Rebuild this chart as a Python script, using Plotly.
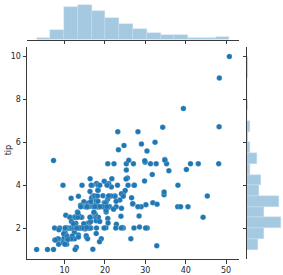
import numpy as np
import plotly.graph_objects as go

total_bill = [16.99,10.34,21.01,23.68,24.59,25.29,8.77,26.88,15.04,14.78,10.27,35.26,15.42,18.43,14.83,21.58,10.33,16.29,16.97,20.65,
17.92,20.29,15.77,39.42,19.82,17.81,13.37,12.69,21.7,19.65,9.55,18.35,15.06,20.69,17.78,24.06,16.31,16.93,18.69,31.27,
16.04,17.46,13.94,9.68,30.4,18.29,22.23,32.4,28.55,18.04,12.54,10.29,34.81,9.94,25.56,19.49,38.01,26.41,11.24,48.27,
20.29,13.81,11.02,18.29,17.59,20.08,16.45,3.07,20.23,15.01,12.02,17.07,26.86,25.28,14.73,10.51,17.92,27.2,22.76,17.29,
19.44,16.66,10.07,32.68,15.98,34.83,13.03,18.28,24.71,21.16,28.97,22.49,5.75,16.32,22.75,40.17,27.28,12.03,21.01,12.46,
11.35,15.38,44.3,22.42,20.92,15.36,20.49,25.21,18.24,14.31,14.0,7.25,38.07,23.95,25.71,17.31,29.93,10.65,12.43,24.08,
11.69,13.42,14.26,15.95,12.48,29.8,8.52,14.52,11.38,22.82,19.08,20.27,11.17,12.26,18.26,8.51,10.33,14.15,16.0,13.16,
17.47,34.3,41.19,27.05,16.43,8.35,18.64,11.87,9.78,7.51,14.07,13.13,17.26,24.55,19.77,29.85,48.17,25.0,13.39,16.49,
21.5,12.66,16.21,13.81,17.51,24.52,20.76,31.71,10.59,10.63,50.81,15.81,7.25,31.85,16.82,32.9,17.89,14.48,9.6,34.63,
34.65,23.33,45.35,23.17,40.55,20.69,20.9,30.46,18.15,23.1,15.69,19.81,28.44,15.48,16.58,7.56,10.34,43.11,13.0,13.51,
18.71,12.74,13.0,16.4,20.53,16.47,26.59,38.73,24.27,12.76,30.06,25.89,48.33,13.27,28.17,12.9,28.15,11.59,7.74,30.14,
12.16,13.42,8.58,15.98,13.42,16.27,10.09,20.45,13.28,22.12,24.01,15.69,11.61,10.77,15.53,10.07,12.6,32.83,35.83,29.03,
27.18,22.67,17.82,18.78]
tip = [1.01,1.66,3.5,3.31,3.61,4.71,2.0,3.12,1.96,3.23,1.71,5.0,1.57,3.0,3.02,3.92,1.67,3.71,3.5,3.35,
4.08,2.75,2.23,7.58,3.18,2.34,2.0,2.0,4.3,3.0,1.45,2.5,3.0,2.45,3.27,3.6,2.0,3.07,2.31,5.0,
2.24,2.54,3.06,1.32,5.6,3.0,5.0,6.0,2.05,3.0,2.5,2.6,5.2,1.56,4.34,3.51,3.0,1.5,2.5,6.73,
3.21,2.0,1.98,3.76,2.64,3.15,2.47,1.0,2.01,2.09,1.97,3.0,3.14,5.0,2.2,1.25,3.08,4.0,3.0,2.71,
3.0,3.4,1.83,5.0,2.03,5.17,2.0,4.0,5.85,3.0,3.0,3.5,1.0,4.3,3.25,4.73,4.0,1.5,3.0,1.5,
2.5,3.0,2.5,3.48,4.08,1.64,4.06,4.29,3.76,4.0,3.0,1.0,4.0,2.55,4.0,3.5,5.07,1.5,1.8,2.92,
2.31,1.68,2.5,2.0,2.52,4.2,1.48,2.0,2.0,2.18,1.5,2.83,1.5,2.0,3.25,1.25,2.0,2.0,2.0,2.75,
3.5,6.7,5.0,5.0,2.3,1.5,1.36,1.63,1.73,2.0,2.5,2.0,2.74,2.0,2.0,5.14,5.0,3.75,2.61,2.0,
3.5,2.5,2.0,2.0,3.0,3.48,2.24,4.5,1.61,2.0,10.0,3.16,5.15,3.18,4.0,3.11,2.0,2.0,4.0,3.55,
3.68,5.65,3.5,6.5,3.0,5.0,3.5,2.0,3.5,4.0,1.5,4.19,2.56,2.02,4.0,1.44,2.0,5.0,2.0,2.0,
4.0,2.01,2.0,2.5,4.0,3.23,3.41,3.0,2.03,2.23,2.0,5.16,9.0,2.5,6.5,1.1,3.0,1.5,1.44,3.09,
2.2,3.48,1.92,3.0,1.58,2.5,2.0,3.0,2.72,2.88,2.0,3.0,3.39,1.47,3.0,1.25,1.0,1.17,4.67,5.92,
2.0,2.0,1.75,3.0]
x_ticks = [10, 20, 30, 40, 50]
y_ticks = [2, 4, 6, 8, 10]
y_label = "tip"

W, H = 283, 275
BLUE = "#1f77b4"
HIST = "#a5c9e1"
AX = "#3a3a3a"
FONT = dict(family="DejaVu Sans", size=8, color="#262626")

cx, ex = np.histogram(total_bill, bins=14)
cy, ey = np.histogram(tip, bins=18)

xr = [0.68, 53.2]
yr = [0.55, 10.45]

fig = go.Figure()
fig.add_trace(go.Scatter(x=total_bill, y=tip, mode="markers",
                         marker=dict(color=BLUE, size=5.5, line=dict(color="white", width=0.2)),
                         xaxis="x", yaxis="y", showlegend=False))
fig.add_trace(go.Bar(x=(ex[:-1] + ex[1:]) / 2, y=cx, width=np.diff(ex),
                     marker=dict(color=HIST, line=dict(color="#cfe0ee", width=0.4)),
                     xaxis="x2", yaxis="y2", showlegend=False))
fig.add_trace(go.Bar(y=(ey[:-1] + ey[1:]) / 2, x=cy, width=np.diff(ey), orientation="h",
                     marker=dict(color=HIST, line=dict(color="#cfe0ee", width=0.4)),
                     xaxis="x3", yaxis="y3", showlegend=False))

x0, x1 = 27 / W, 239 / W
yb, yt = 1 - 262 / H, 1 - 47.5 / H
common = dict(showgrid=False, zeroline=False, showline=True, linecolor=AX, linewidth=1,
              ticks="outside", ticklen=3.5, tickwidth=1, tickcolor=AX, tickfont=FONT)

fig.update_layout(
    width=W, height=H, margin=dict(l=0, r=0, t=0, b=0),
    paper_bgcolor="white", plot_bgcolor="white", bargap=0,
    xaxis=dict(domain=[x0, x1], range=xr, tickvals=x_ticks, anchor="y", **common),
    yaxis=dict(domain=[yb, yt], range=yr, tickvals=y_ticks, anchor="x", **common),
    xaxis2=dict(domain=[x0, x1], range=xr, tickvals=x_ticks, anchor="y2", showticklabels=False,
                **{k: v for k, v in common.items() if k != "tickfont"}),
    yaxis2=dict(domain=[1 - 40 / H, 1 - 2.9 / H], range=[0, cx.max() * 1.05], visible=False, anchor="x2"),
    xaxis3=dict(domain=[247 / W, 1], range=[0, cy.max() * 1.05], visible=False, anchor="y3"),
    yaxis3=dict(domain=[yb, yt], range=yr, tickvals=y_ticks, anchor="x3", showticklabels=False,
                **{k: v for k, v in common.items() if k != "tickfont"}),
    annotations=[dict(text=y_label, x=8 / W, y=1 - 152 / H, xref="paper", yref="paper",
                      xanchor="center", yanchor="middle",
                      textangle=-90, showarrow=False, font=FONT)],
)
fig.write_html("out.html")
